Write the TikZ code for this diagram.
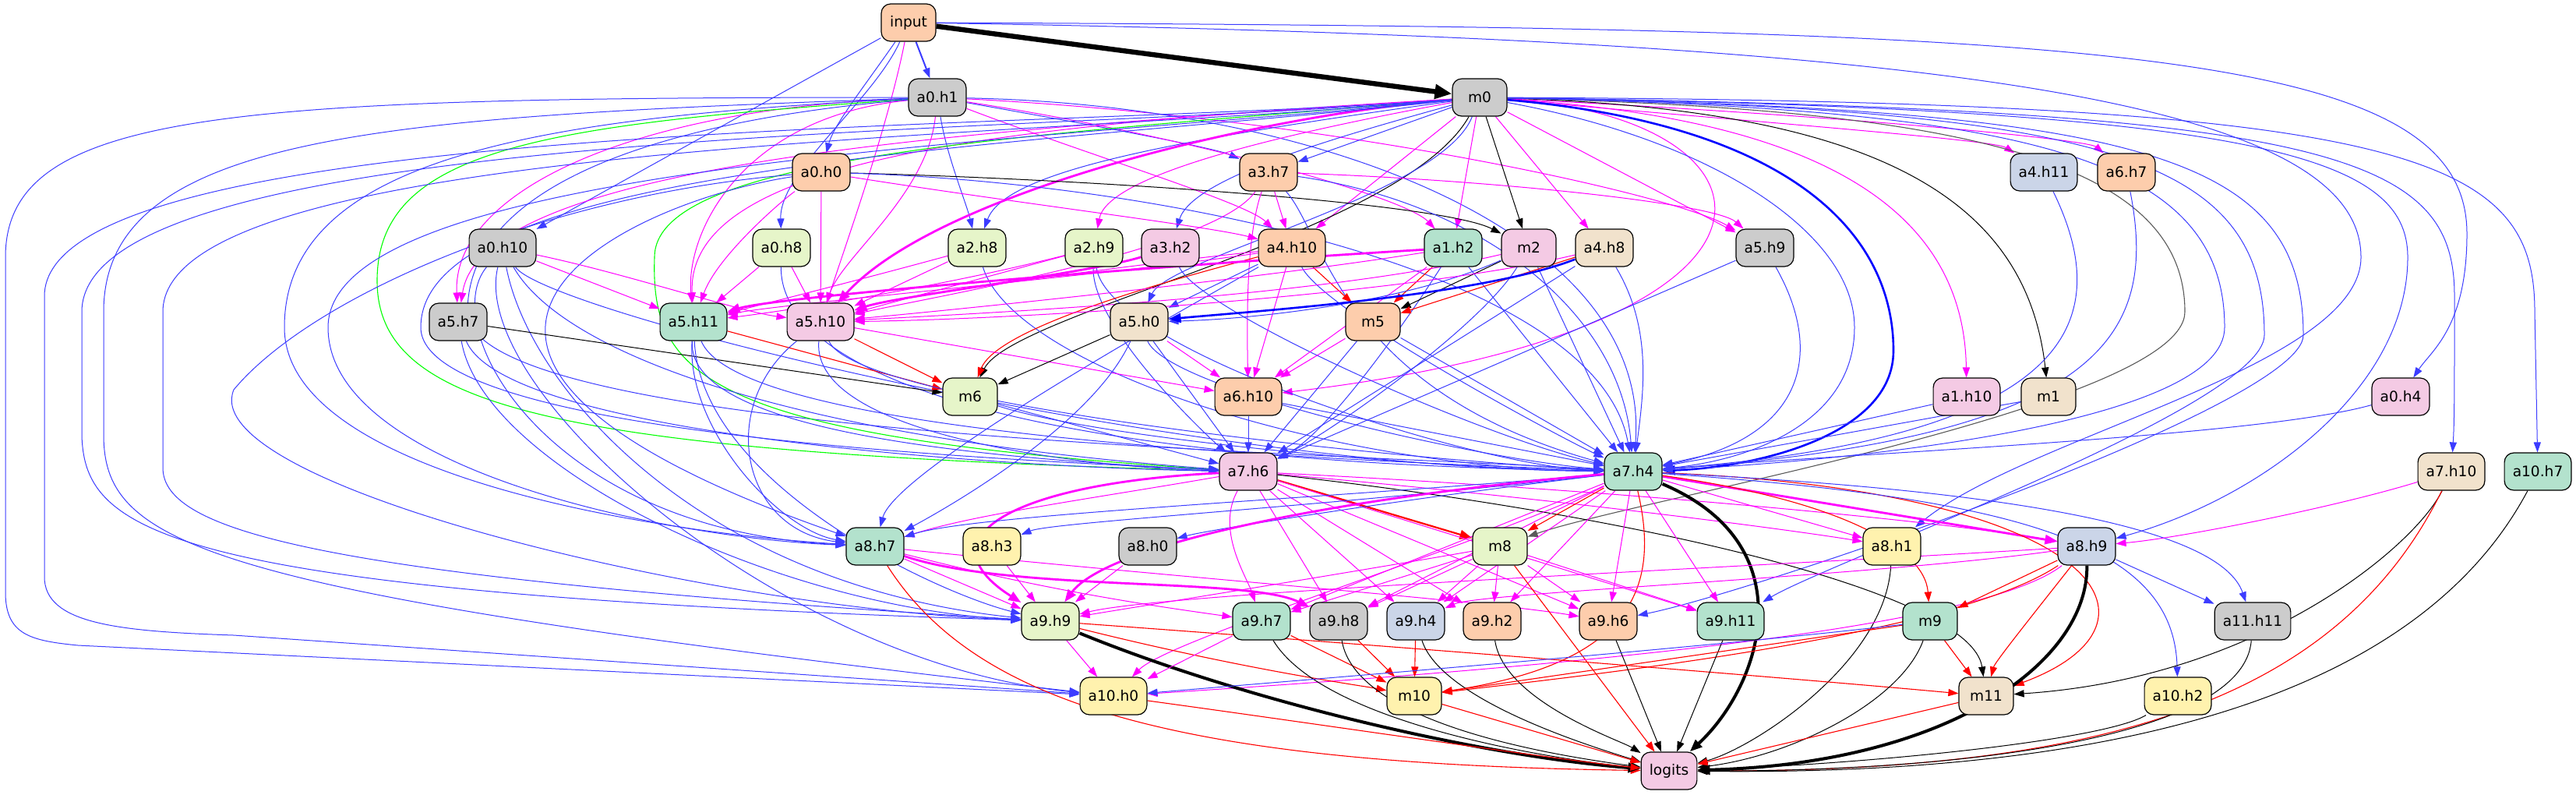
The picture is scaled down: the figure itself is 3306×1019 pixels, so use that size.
\documentclass[tikz,border=0pt]{standalone}
\usepackage{fontspec}
\setmainfont{DejaVu Sans}
\usetikzlibrary{arrows.meta}
\definecolor{cmint}{HTML}{B3E2CD}
\definecolor{cpeach}{HTML}{FDCDAC}
\definecolor{csteel}{HTML}{CBD5E8}
\definecolor{cpink}{HTML}{F4CAE4}
\definecolor{cygreen}{HTML}{E6F5C9}
\definecolor{cyellow}{HTML}{FFF2AE}
\definecolor{cbisque}{HTML}{F1E2CC}
\definecolor{cgray}{HTML}{CCCCCC}
\definecolor{emag}{RGB}{255,0,255}
\definecolor{eblu}{RGB}{0,0,255}
\definecolor{eblul}{RGB}{60,60,255}
\definecolor{ered}{RGB}{255,0,0}
\definecolor{egrn}{RGB}{0,255,0}
\pgfdeclarelayer{bg}
\pgfsetlayers{bg,main}
\tikzset{
  nd/.style={draw=black, line width=0.6pt, rounded corners=6pt, minimum height=24pt, minimum width=35pt, inner xsep=5.3pt, inner ysep=0pt, font=\fontsize{9.3}{11}\selectfont},
  tp/.style={-{Triangle[length=6.5pt,width=4.6pt]}},
  tpb/.style={-{Triangle[length=8pt,width=6pt]}},
  eb/.style={tp, draw=eblul, line width=0.5pt},
  ebt/.style={tpb, draw=eblu, line width=1.3pt},
  em/.style={tp, draw=emag, line width=0.5pt},
  emt/.style={tpb, draw=emag, line width=1.4pt},
  er/.style={tp, draw=ered, line width=0.55pt},
  ert/.style={tpb, draw=ered, line width=1.1pt},
  ek/.style={tp, draw=black, line width=0.5pt},
  ekt/.style={tpb, draw=black, line width=2pt},
  eg/.style={tp, draw=egrn, line width=0.55pt},
  egr/.style={tp, draw=black!65, line width=0.55pt},
}
\begin{document}
\begin{tikzpicture}[x=0.5pt,y=-0.5pt]
\useasboundingbox (0,0) rectangle (3306,1019);
% ---------------- nodes
\node[nd,fill=cpeach] (input) at (1166,29) {input};
\node[nd,fill=cgray] (m0) at (1899,125) {m0};
\node[nd,fill=cgray] (a0h1) at (1203,125) {a0.h1};
\node[nd,fill=cpeach] (a0h0) at (1054,221) {a0.h0};
\node[nd,fill=cpeach] (a3h7) at (1628,221) {a3.h7};
\node[nd,fill=csteel] (a4h11) at (2623,221) {a4.h11};
\node[nd,fill=cpeach] (a6h7) at (2729,221) {a6.h7};
\node[nd,fill=cgray] (a0h10) at (645,318) {a0.h10};
\node[nd,fill=cygreen] (a0h8) at (1003,318) {a0.h8};
\node[nd,fill=cygreen] (a2h8) at (1254,318) {a2.h8};
\node[nd,fill=cygreen] (a2h9) at (1404,318) {a2.h9};
\node[nd,fill=cpink] (a3h2) at (1502,318) {a3.h2};
\node[nd,fill=cpeach] (a4h10) at (1658,318) {a4.h10};
\node[nd,fill=cmint] (a1h2) at (1865,318) {a1.h2};
\node[nd,fill=cpink] (m2) at (1962,318) {m2};
\node[nd,fill=cbisque] (a4h8) at (2059,318) {a4.h8};
\node[nd,fill=cgray] (a5h9) at (2265,318) {a5.h9};
\node[nd,fill=cgray] (a5h7) at (588,413) {a5.h7};
\node[nd,fill=cmint] (a5h11) at (890,413) {a5.h11};
\node[nd,fill=cpink] (a5h10) at (1053,413) {a5.h10};
\node[nd,fill=cbisque] (a5h0) at (1462,413) {a5.h0};
\node[nd,fill=cpeach] (m5) at (1762,413) {m5};
\node[nd,fill=cygreen] (m6) at (1245,509) {m6};
\node[nd,fill=cpeach] (a6h10) at (1602,509) {a6.h10};
\node[nd,fill=cpink] (a1h10) at (2524,509) {a1.h10};
\node[nd,fill=cbisque] (m1) at (2629,509) {m1};
\node[nd,fill=cpink] (a0h4) at (3081,509) {a0.h4};
\node[nd,fill=cpink] (a7h6) at (1602,605) {a7.h6};
\node[nd,fill=cmint] (a7h4) at (2096,605) {a7.h4};
\node[nd,fill=cbisque] (a7h10) at (3146,605) {a7.h10};
\node[nd,fill=cmint] (a10h7) at (3257,605) {a10.h7};
\node[nd,fill=cmint] (a8h7) at (1123,701) {a8.h7};
\node[nd,fill=cyellow] (a8h3) at (1273,701) {a8.h3};
\node[nd,fill=cgray] (a8h0) at (1473,701) {a8.h0};
\node[nd,fill=cygreen] (m8) at (1925,701) {m8};
\node[nd,fill=cyellow] (a8h1) at (2428,701) {a8.h1};
\node[nd,fill=csteel] (a8h9) at (2678,701) {a8.h9};
\node[nd,fill=cygreen] (a9h9) at (1348,797) {a9.h9};
\node[nd,fill=cmint] (a9h7) at (1619,797) {a9.h7};
\node[nd,fill=cgray] (a9h8) at (1718,797) {a9.h8};
\node[nd,fill=csteel] (a9h4) at (1817,797) {a9.h4};
\node[nd,fill=cpeach] (a9h2) at (1915,797) {a9.h2};
\node[nd,fill=cpeach] (a9h6) at (2064,797) {a9.h6};
\node[nd,fill=cmint] (a9h11) at (2221,797) {a9.h11};
\node[nd,fill=cmint] (m9) at (2477,797) {m9};
\node[nd,fill=cgray] (a11h11) at (2891,797) {a11.h11};
\node[nd,fill=cyellow] (a10h0) at (1429,893) {a10.h0};
\node[nd,fill=cyellow] (m10) at (1815,893) {m10};
\node[nd,fill=cbisque] (m11) at (2549,893) {m11};
\node[nd,fill=cyellow] (a10h2) at (2795,893) {a10.h2};
\node[nd,fill=cpink] (logits) at (2142,989) {logits};
% ---------------- edges
\begin{pgfonlayer}{bg}
% input
\draw[ek, line width=3.2pt, -{Triangle[length=11pt,width=9pt]}] (input) -- (m0);
\draw[eb, line width=1pt] (input) -- (a0h1);
\draw[eb] (input) .. controls (1110,110) and (1070,160) .. (a0h0);
\draw[eb] (input) -- (a0h10);
\draw[eb] (input) .. controls (1120,130) and (1000,220) .. (a0h8);
\draw[em] (input) .. controls (1140,160) and (1090,300) .. (a5h10);
\draw[eb] (input) .. controls (2700,35) and (3166,60) .. (3166,300) .. controls (3166,420) and (3120,450) .. (a0h4);
\draw[eb] (input) .. controls (2500,50) and (3030,130) .. (3030,330) .. controls (3030,470) and (2600,560) .. (a8h1);
% a0h1
\draw[eb] (a0h1) .. controls (1400,160) and (1560,190) .. (a3h7);
\draw[eb] (a0h1) .. controls (1215,200) and (1240,260) .. (a2h8);
\draw[em] (a0h1) .. controls (1400,200) and (1600,260) .. (a4h10);
\draw[em] (a0h1) .. controls (1500,170) and (1800,250) .. (a1h2);
\draw[em] (a0h1) .. controls (1700,150) and (2150,250) .. (a5h9);
\draw[em] (a0h1) .. controls (1190,250) and (1080,330) .. (a5h10);
\draw[em] (a0h1) .. controls (800,140) and (580,250) .. (a5h7);
\draw[em] (a0h1) .. controls (950,150) and (880,300) .. (a5h11);
\draw[eb] (a0h1) .. controls (1700,135) and (2120,300) .. (a7h4);
\draw[eg] (a0h1) .. controls (700,160) and (484,190) .. (484,360) .. controls (484,520) and (700,580) .. (a7h6);
\draw[eb] (a0h1) .. controls (300,125) and (7,140) .. (7,330) -- (7,760) .. controls (7,815) and (40,822) .. (100,828) -- (a10h0);
\draw[eb] (a0h1) .. controls (500,150) and (133,170) .. (133,400) -- (133,560) .. controls (135,700) and (260,760) .. (a10h0);
\draw[eb] (a0h1) .. controls (700,150) and (365,200) .. (365,420) .. controls (365,600) and (800,680) .. (a8h7);
\draw[eb] (a0h1) .. controls (900,150) and (600,220) .. (600,400) .. controls (600,560) and (1700,580) .. (a7h4);
% m0
\draw[eb] (m0) -- (a3h7);
\draw[eb] (m0) .. controls (1500,180) and (1290,220) .. (a2h8);
\draw[em] (m0) .. controls (1600,180) and (1420,230) .. (a2h9);
\draw[eb] (m0) .. controls (1700,180) and (1530,230) .. (a3h2);
\draw[em] (m0) -- (a4h10);
\draw[em] (m0) -- (a1h2);
\draw[ek] (m0) -- (m2);
\draw[em] (m0) -- (a4h8);
\draw[em] (m0) -- (a5h9);
\draw[em] (m0) .. controls (2300,160) and (2560,180) .. (a4h11);
\draw[em] (m0) .. controls (2400,150) and (2680,180) .. (a6h7);
\draw[emt] (m0) .. controls (1600,150) and (1200,250) .. (a5h10);
\draw[ek] (m0) .. controls (1800,300) and (1300,400) .. (m6);
\draw[eb] (m0) .. controls (1850,250) and (1500,330) .. (a5h0);
\draw[em] (m0) .. controls (2300,150) and (2520,250) .. (a1h10);
\draw[ek] (m0) .. controls (2400,140) and (2600,250) .. (m1);
\draw[em] (m0) .. controls (2300,150) and (2360,420) .. (a6h10);
\draw[egr] (m0) .. controls (2500,140) and (2804,200) .. (2804,400) .. controls (2804,520) and (2100,640) .. (m8);
\draw[eb] (m0) .. controls (2700,140) and (2906,200) .. (2906,430) .. controls (2906,520) and (2350,720) .. (a9h11);
\draw[eb] (m0) .. controls (2750,140) and (2956,200) .. (2956,430) .. controls (2956,520) and (2250,760) .. (a9h6);
\draw[eb] (m0) .. controls (2900,140) and (3090,200) .. (3090,330) .. controls (3090,500) and (2900,640) .. (a8h9);
\draw[eb] (m0) .. controls (3000,140) and (3150,200) .. (3150,380) .. controls (3150,500) and (3150,540) .. (a7h10);
\draw[eb] (m0) .. controls (3100,130) and (3253,200) .. (3253,400) -- (a10h7);
\draw[ebt] (m0) .. controls (2300,160) and (2430,300) .. (2430,450) .. controls (2430,560) and (2250,600) .. (a7h4);
\draw[eb] (m0) .. controls (2200,180) and (2380,300) .. (2380,420) .. controls (2380,540) and (2250,590) .. (a7h4);
\draw[eb] (m0) .. controls (2600,140) and (2855,200) .. (2855,420) .. controls (2855,540) and (2400,590) .. (a7h4);
\draw[em] (m0) .. controls (1300,165) and (620,200) .. (a5h7);
\draw[em] (m0) .. controls (1300,160) and (880,200) .. (a5h11);
\draw[eg] (m0) .. controls (1300,175) and (840,200) .. (840,330) .. controls (835,480) and (900,560) .. (a7h6);
\draw[eb] (m0) .. controls (1300,170) and (57,150) .. (57,380) -- (57,740) .. controls (57,800) and (150,810) .. (300,815) -- (a10h0);
\draw[eb] (m0) .. controls (1300,175) and (105,160) .. (105,400) -- (105,560) .. controls (110,680) and (200,760) .. (a9h9);
\draw[eb] (m0) .. controls (1300,180) and (209,180) .. (209,400) -- (209,600) .. controls (209,680) and (400,740) .. (a9h9);
\draw[eb] (m0) .. controls (1300,185) and (421,210) .. (421,420) .. controls (421,600) and (850,690) .. (a8h7);
\draw[eb] (m0) .. controls (1300,190) and (540,210) .. (540,420) .. controls (540,560) and (1300,590) .. (a7h6);
% a0h0
\draw[ek] (a0h0) .. controls (1400,230) and (1850,260) .. (m2);
\draw[em] (a0h0) .. controls (1300,260) and (1550,290) .. (a4h10);
\draw[eb] (a0h0) .. controls (1500,235) and (2050,350) .. (a7h4);
\draw[em] (a0h0) .. controls (1000,260) and (920,330) .. (a5h11);
\draw[em] (a0h0) -- (a5h10);
\draw[eb] (a0h0) .. controls (700,250) and (400,380) .. (300,500) .. controls (250,620) and (900,780) .. (a9h9);
\draw[eb] (a0h0) .. controls (800,260) and (400,450) .. (a8h7);
% a3h7
\draw[em] (a3h7) -- (a4h10);
\draw[em] (a3h7) .. controls (1900,230) and (2200,260) .. (a5h9);
\draw[eb] (a3h7) .. controls (1900,260) and (2080,400) .. (a7h4);
\draw[em] (a3h7) .. controls (1600,300) and (1600,400) .. (a6h10);
\draw[em] (a3h7) .. controls (1560,320) and (1200,380) .. (a5h10);
\draw[eb] (a3h7) .. controls (1700,300) and (1720,500) .. (a7h4);
% right column
\draw[eb] (a4h11) .. controls (2720,420) and (2650,560) .. (a7h4);
\draw[eb] (a6h7) .. controls (2770,430) and (2700,560) .. (a7h4);
\draw[eb] (a1h10) -- (a7h4);
\draw[eb] (m1) -- (a7h4);
\draw[eb] (a0h4) .. controls (2900,560) and (2400,580) .. (a7h4);
% a0h10
\draw[em] (a0h10) -- (a5h11);
\draw[em] (a0h10) .. controls (800,350) and (950,400) .. (a5h10);
\draw[eb] (a0h10) .. controls (680,500) and (900,750) .. (a9h9);
\draw[eb] (a0h10) .. controls (720,450) and (1000,560) .. (a7h6);
\draw[eb] (a0h10) .. controls (700,400) and (1500,600) .. (a7h4);
\draw[eb] (a0h10) .. controls (600,500) and (1000,850) .. (a10h0);
\draw[eb] (a0h10) .. controls (560,420) and (700,680) .. (a8h7);
% a0h8
\draw[em] (a0h8) -- (a5h11);
\draw[em] (a0h8) -- (a5h10);
\draw[eb] (a0h8) .. controls (1000,450) and (1200,590) .. (a7h4);
% a2h8, a2h9, a3h2
\draw[em] (a2h8) -- (a5h10);
\draw[em] (a2h8) .. controls (1100,360) and (980,390) .. (a5h11);
\draw[eb] (a2h8) .. controls (1300,470) and (1700,600) .. (a7h4);
\draw[em] (a2h9) -- (a5h10);
\draw[em] (a2h9) .. controls (1200,370) and (1000,400) .. (a5h11);
\draw[eb] (a2h9) .. controls (1400,420) and (1550,560) .. (a7h6);
\draw[eb] (a2h9) .. controls (1420,450) and (1900,600) .. (a7h4);
\draw[emt] (a3h2) .. controls (1400,350) and (1150,380) .. (a5h10);
\draw[eb] (a3h2) .. controls (1540,400) and (1900,560) .. (a7h4);
% a4h10
\draw[em] (a4h10) .. controls (1450,340) and (1150,380) .. (a5h10);
\draw[em] (a4h10) .. controls (1450,350) and (1000,390) .. (a5h11);
\draw[er] (a4h10) -- (m5);
\draw[er] (a4h10) .. controls (1500,360) and (1280,420) .. (m6);
\draw[em] (a4h10) -- (a6h10);
\draw[eb] (a4h10) .. controls (1700,400) and (2000,560) .. (a7h4);
\draw[eb] (a4h10) .. controls (1550,380) and (1150,600) .. (a8h7);
\draw[eb] (a4h10) -- (a5h0);
% a1h2, m2, a4h8, a5h9
\draw[emt] (a1h2) .. controls (1500,340) and (1000,380) .. (a5h11);
\draw[em] (a1h2) .. controls (1600,360) and (1200,400) .. (a5h10);
\draw[er] (a1h2) -- (m5);
\draw[em] (a1h2) -- (a6h10);
\draw[eb] (a1h2) -- (a7h4);
\draw[eb] (a1h2) .. controls (1800,420) and (1700,560) .. (a7h6);
\draw[ek] (m2) -- (m5);
\draw[em] (m2) .. controls (1700,380) and (1300,400) .. (a5h10);
\draw[eb] (m2) .. controls (1800,390) and (1600,410) .. (a5h0);
\draw[eb] (m2) -- (a7h4);
\draw[eb] (m2) .. controls (1900,420) and (1700,560) .. (a7h6);
\draw[er] (a4h8) -- (m5);
\draw[em] (a4h8) .. controls (1800,380) and (1300,410) .. (a5h10);
\draw[ebt] (a4h8) .. controls (1900,380) and (1600,400) .. (a5h0);
\draw[eb] (a4h8) .. controls (2120,420) and (2110,500) .. (a7h4);
\draw[eb] (a4h8) -- (a7h6);
\draw[eb] (a5h9) .. controls (2340,450) and (2320,560) .. (a7h4);
\draw[eb] (a5h9) -- (a7h6);
% rank 4
\draw[ek] (a5h7) -- (m6);
\draw[eb] (a5h7) .. controls (650,560) and (1300,600) .. (a7h6);
\draw[eb] (a5h7) .. controls (620,600) and (1000,780) .. (a9h9);
\draw[er] (a5h11) -- (m6);
\draw[eb] (a5h11) .. controls (880,560) and (1300,590) .. (a7h6);
\draw[eb] (a5h11) .. controls (950,560) and (1700,590) .. (a7h4);
\draw[eb] (a5h11) .. controls (880,550) and (1000,680) .. (a8h7);
\draw[eb] (a5h11) .. controls (900,620) and (1200,760) .. (a9h9);
\draw[er] (a5h10) -- (m6);
\draw[em] (a5h10) -- (a6h10);
\draw[eb] (a5h10) .. controls (1040,560) and (1400,600) .. (a7h6);
\draw[eb] (a5h10) .. controls (1100,520) and (1800,590) .. (a7h4);
\draw[eb] (a5h10) .. controls (920,520) and (950,680) .. (a8h7);
\draw[ek] (a5h0) -- (m6);
\draw[em] (a5h0) -- (a6h10);
\draw[eb] (a5h0) -- (a7h6);
\draw[eb] (a5h0) .. controls (1500,500) and (1900,590) .. (a7h4);
\draw[eb] (a5h0) .. controls (1400,550) and (1200,660) .. (a8h7);
\draw[em] (m5) -- (a6h10);
\draw[eb] (m5) -- (a7h6);
\draw[eb] (m5) -- (a7h4);
% rank 5
\draw[eb] (m6) -- (a7h6);
\draw[eb] (m6) .. controls (1400,560) and (1800,600) .. (a7h4);
\draw[eb] (a6h10) -- (a7h6);
\draw[eb] (a6h10) -- (a7h4);
% a7h6
\draw[em] (a7h6) .. controls (1400,640) and (1250,660) .. (a8h7);
\draw[ert] (a7h6) -- (m8);
\draw[em] (a7h6) .. controls (2000,640) and (2300,680) .. (a8h1);
\draw[em] (a7h6) .. controls (2100,630) and (2500,670) .. (a8h9);
\draw[emt] (a7h6) .. controls (1300,620) and (1180,690) .. (a9h9);
\draw[em] (a7h6) .. controls (1560,680) and (1600,740) .. (a9h7);
\draw[em] (a7h6) -- (a9h8);
\draw[em] (a7h6) -- (a9h4);
\draw[em] (a7h6) -- (a9h2);
\draw[em] (a7h6) -- (a9h6);
\draw[em] (a7h6) -- (a9h11);
\draw[ek] (a7h6) .. controls (2100,660) and (2530,760) .. (m11);
% a7h4
\draw[eb] (a7h4) .. controls (1700,640) and (1250,660) .. (a8h7);
\draw[eb] (a7h4) .. controls (1700,650) and (1350,670) .. (a8h3);
\draw[eb] (a7h4) .. controls (1800,640) and (1550,680) .. (a8h0);
\draw[er] (a7h4) -- (m8);
\draw[em] (a7h4) -- (a8h1);
\draw[emt] (a7h4) -- (a8h9);
\draw[emt] (a7h4) .. controls (1700,640) and (1420,700) .. (a9h9);
\draw[em] (a7h4) -- (a9h7);
\draw[em] (a7h4) -- (a9h8);
\draw[em] (a7h4) -- (a9h4);
\draw[em] (a7h4) -- (a9h2);
\draw[em] (a7h4) -- (a9h6);
\draw[em] (a7h4) -- (a9h11);
\draw[er] (a7h4) .. controls (2350,640) and (2470,700) .. (m9);
\draw[em] (a7h4) .. controls (1900,700) and (1500,820) .. (a10h0);
\draw[er] (a7h4) .. controls (2130,750) and (2100,850) .. (m10);
\draw[er] (a7h4) .. controls (2700,630) and (2800,800) .. (m11);
\draw[eb] (a7h4) .. controls (2600,630) and (2850,680) .. (a11h11);
\draw[eb] (a7h4) .. controls (2600,640) and (2790,700) .. (a10h2);
\draw[ekt] (a7h4) .. controls (2320,700) and (2260,880) .. (logits);
% a7h10, a10h7
\draw[em] (a7h10) .. controls (3000,650) and (2800,690) .. (a8h9);
\draw[ek] (a7h10) .. controls (3100,700) and (2900,870) .. (m11);
\draw[er] (a7h10) .. controls (3000,900) and (2700,990) .. (logits);
\draw[ek] (a10h7) .. controls (3100,900) and (2700,995) .. (logits);
% rank 7
\draw[em] (a8h7) -- (a9h9);
\draw[em] (a8h7) .. controls (1350,760) and (1500,780) .. (a9h7);
\draw[emt] (a8h7) .. controls (1300,760) and (1600,740) .. (a9h8);
\draw[em] (a8h7) .. controls (1500,740) and (1900,770) .. (a9h6);
\draw[er] (a8h7) .. controls (1250,900) and (1500,980) .. (logits);
\draw[em] (a8h3) -- (a9h9);
\draw[em] (a8h0) -- (a9h9);
\draw[em] (m8) .. controls (1700,740) and (1450,780) .. (a9h9);
\draw[em] (m8) -- (a9h7);
\draw[em] (m8) -- (a9h8);
\draw[em] (m8) -- (a9h4);
\draw[em] (m8) -- (a9h2);
\draw[em] (m8) -- (a9h6);
\draw[em] (m8) -- (a9h11);
\draw[er] (m8) -- (logits);
\draw[ek] (a8h1) .. controls (2420,850) and (2250,960) .. (logits);
\draw[em] (a8h9) .. controls (2200,730) and (1500,760) .. (a9h9);
\draw[em] (a8h9) .. controls (2400,740) and (1900,760) .. (a9h4);
\draw[em] (a8h9) .. controls (2550,800) and (2100,850) .. (a10h0);
\draw[er] (a8h9) -- (m9);
\draw[er] (a8h9) .. controls (2600,800) and (2560,850) .. (m11);
\draw[er] (a8h9) .. controls (2500,820) and (2000,870) .. (m10);
\draw[eb] (a8h9) -- (a11h11);
\draw[ekt] (a8h9) .. controls (2680,850) and (2500,980) .. (logits);
% rank 8
\draw[em] (a9h9) -- (a10h0);
\draw[er] (a9h9) .. controls (1600,860) and (1750,880) .. (m10);
\draw[er] (a9h9) .. controls (1800,830) and (2300,870) .. (m11);
\draw[ekt] (a9h9) .. controls (1600,900) and (1900,970) .. (logits);
\draw[em] (a9h7) -- (a10h0);
\draw[er] (a9h7) -- (m10);
\draw[ek] (a9h7) .. controls (1700,930) and (2000,975) .. (logits);
\draw[er] (a9h8) -- (m10);
\draw[ek] (a9h8) .. controls (1740,930) and (2000,970) .. (logits);
\draw[er] (a9h4) -- (m10);
\draw[ek] (a9h4) .. controls (1850,900) and (2050,960) .. (logits);
\draw[ek] (a9h2) .. controls (1930,900) and (2080,950) .. (logits);
\draw[ek] (a9h6) -- (logits);
\draw[ek] (a9h11) -- (logits);
\draw[er] (m9) -- (m10);
\draw[eb] (m9) .. controls (2200,830) and (1700,870) .. (a10h0);
\draw[er] (m9) -- (m11);
\draw[ek] (m9) .. controls (2440,900) and (2300,970) .. (logits);
\draw[ek] (a11h11) .. controls (2880,950) and (2500,990) .. (logits);
% rank 9
\draw[er] (a10h0) .. controls (1700,930) and (2000,975) .. (logits);
\draw[er] (m10) -- (logits);
\draw[er] (m11) -- (logits);
\draw[ek] (a10h2) .. controls (2700,950) and (2400,980) .. (logits);
\end{pgfonlayer}
\end{tikzpicture}
\end{document}
